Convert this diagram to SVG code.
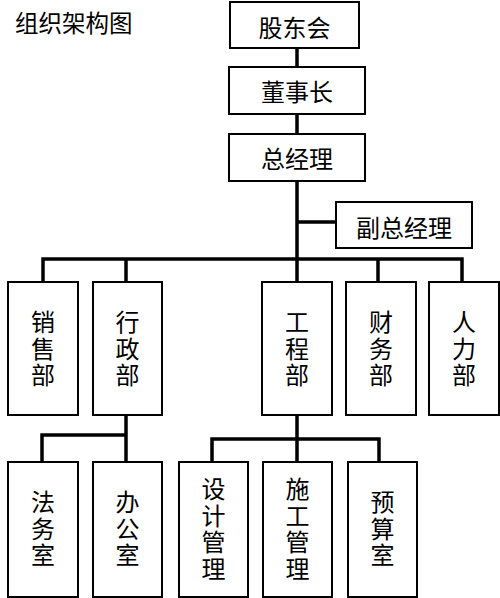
<svg xmlns="http://www.w3.org/2000/svg" width="500" height="598" viewBox="0 0 500 598">
<style>
.box{fill:#fff;stroke:#000;stroke-width:2}
.t{font-family:"Noto Sans CJK SC","Noto Sans",sans-serif;font-size:24px;fill:#000;text-anchor:middle;dominant-baseline:central}
.v{font-family:"Noto Sans CJK SC","Noto Sans",sans-serif;font-size:24px;fill:#000;text-anchor:middle;writing-mode:vertical-rl;letter-spacing:2.5px}
.title{font-family:"Noto Sans CJK SC","Noto Sans",sans-serif;font-size:23.5px;fill:#000;dominant-baseline:central}
.c{fill:none;stroke:#000;stroke-width:3.5;stroke-linecap:square}
</style>
<rect width="500" height="598" fill="#fff"/>
<text class="title" x="15" y="22">组织架构图</text>
<g id="connectors">
<path class="c" d="M297 48V67M297 114V134M297 181V282M297 222H336"/>
<path class="c" d="M43 282V259H462V282M126 259V282M378 259V282"/>
<path class="c" d="M126 415V462M126 435H42V462"/>
<path class="c" d="M297 415V462M212 462V439H379V462"/>
</g>
<g id="gudonghui"><rect class="box" x="230" y="2" width="129" height="46"/><text class="t" x="294.5" y="26">股东会</text></g>
<g id="dongshizhang"><rect class="box" x="229" y="67" width="136" height="47"/><text class="t" x="297" y="90">董事长</text></g>
<g id="zongjingli"><rect class="box" x="229" y="134" width="136" height="47"/><text class="t" x="297" y="157">总经理</text></g>
<g id="fuzongjingli"><rect class="box" x="336" y="202" width="136" height="46"/><text class="t" x="404" y="226">副总经理</text></g>
<g id="xiaoshou"><rect class="box" x="8" y="282" width="70" height="133"/><text class="v" x="43" y="350">销售部</text></g>
<g id="xingzheng"><rect class="box" x="93" y="282" width="69" height="133"/><text class="v" x="127.5" y="350">行政部</text></g>
<g id="gongcheng"><rect class="box" x="262" y="282" width="70" height="133"/><text class="v" x="297" y="350">工程部</text></g>
<g id="caiwu"><rect class="box" x="346" y="282" width="70" height="133"/><text class="v" x="381" y="350">财务部</text></g>
<g id="renli"><rect class="box" x="429" y="282" width="70" height="133"/><text class="v" x="464" y="350">人力部</text></g>
<g id="fawu"><rect class="box" x="8" y="462" width="70" height="135"/><text class="v" x="43" y="530">法务室</text></g>
<g id="bangong"><rect class="box" x="93" y="462" width="69" height="135"/><text class="v" x="127.5" y="530">办公室</text></g>
<g id="sheji"><rect class="box" x="179" y="462" width="69" height="135"/><text class="v" x="213.5" y="530">设计管理</text></g>
<g id="shigong"><rect class="box" x="263" y="462" width="69" height="135"/><text class="v" x="297.5" y="530">施工管理</text></g>
<g id="yusuan"><rect class="box" x="348" y="462" width="69" height="135"/><text class="v" x="382.5" y="530">预算室</text></g>
</svg>
